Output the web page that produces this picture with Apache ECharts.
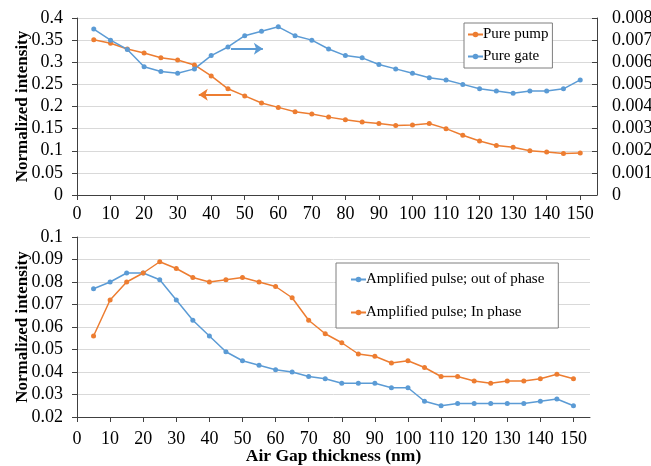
<!DOCTYPE html>
<html>
<head>
<meta charset="utf-8">
<script src="https://cdn.jsdelivr.net/npm/echarts@6/dist/echarts.min.js"></script>
<style>
  html, body { margin: 0; background: #fff; }
  #chart { width: 651px; height: 466px; }
</style>
</head>
<body>
<div id="chart"></div>
<script>
// air gap thickness (nm)
const gapNm = [5, 10, 15, 20, 25, 30, 35, 40, 45, 50, 55, 60, 65, 70, 75,
  80, 85, 90, 95, 100, 105, 110, 115, 120, 125, 130, 135, 140, 145, 150];
const xTicks = [0, 10, 20, 30, 40, 50, 60, 70, 80, 90, 100, 110, 120, 130, 140, 150];

// top chart
const purePump = [0.351, 0.343, 0.330, 0.321, 0.310, 0.305, 0.294, 0.269, 0.240, 0.224,
  0.208, 0.198, 0.188, 0.183, 0.176, 0.170, 0.165, 0.1615, 0.157, 0.158,
  0.1615, 0.150, 0.135, 0.122, 0.112, 0.108, 0.100, 0.097, 0.094, 0.095];
const pureGate = [0.0075, 0.0070, 0.00658, 0.0058, 0.00558, 0.0055, 0.0057, 0.0063, 0.00669, 0.0072,
  0.0074, 0.0076, 0.0072, 0.0070, 0.0066, 0.0063, 0.0062, 0.0059, 0.0057, 0.0055,
  0.0053, 0.0052, 0.0050, 0.0048, 0.0047, 0.0046, 0.0047, 0.0047, 0.0048, 0.0052];

// bottom chart
const outOfPhase = [0.077, 0.080, 0.084, 0.084, 0.081, 0.072, 0.063, 0.056, 0.049, 0.045,
  0.043, 0.041, 0.040, 0.038, 0.037, 0.035, 0.035, 0.035, 0.033, 0.033,
  0.027, 0.025, 0.026, 0.026, 0.026, 0.026, 0.026, 0.027, 0.028, 0.025];
const inPhase = [0.056, 0.072, 0.080, 0.084, 0.089, 0.086, 0.082, 0.080, 0.081, 0.082,
  0.080, 0.078, 0.073, 0.063, 0.057, 0.053, 0.048, 0.047, 0.044, 0.045,
  0.042, 0.038, 0.038, 0.036, 0.035, 0.036, 0.036, 0.037, 0.039, 0.037];

// direction arrows (from, to)
const gateArrow = [[45.9, 0.00661], [55.4, 0.00661]];
const pumpArrow = [[45.9, 0.2264], [36.3, 0.2264]];

const BLUE = '#5B9BD5';
const ORANGE = '#ED7D31';
const FONT = 'Liberation Serif';

const pairs = (ys) => gapNm.map((x, i) => [x, ys[i]]);

const chart = echarts.init(document.getElementById('chart'));

const xAxisBase = (gridIndex, withName, labelMargin) => ({
  type: 'value',
  gridIndex: gridIndex,
  min: 0,
  max: 155,
  interval: 10,
  name: withName ? 'Air Gap thickness (nm)' : '',
  nameLocation: 'middle',
  nameGap: 30,
  nameMoveOverlap: false,
  nameTextStyle: { fontFamily: FONT, fontSize: 17.5, fontWeight: 'bold', color: '#000' },
  axisLine: { show: true, lineStyle: { color: '#404040', width: 1 } },
  axisTick: { show: true, length: 5, customValues: xTicks, lineStyle: { color: '#404040' } },
  axisLabel: { customValues: xTicks, fontFamily: FONT, fontSize: 18, color: '#000', margin: labelMargin },
  splitLine: { show: false }
});

const yAxisBase = (gridIndex, min, max, interval, pos, withName) => ({
  type: 'value',
  gridIndex: gridIndex,
  position: pos,
  min: min,
  max: max,
  interval: interval,
  name: withName ? 'Normalized intensity' : '',
  nameLocation: 'middle',
  nameRotate: 90,
  nameGap: 46,
  nameMoveOverlap: false,
  nameTextStyle: { fontFamily: FONT, fontSize: 17, fontWeight: 'bold', color: '#000' },
  axisLine: { show: true, lineStyle: { color: '#404040', width: 1 } },
  axisTick: { show: true, length: 5, inside: pos === 'right', lineStyle: { color: '#404040' } },
  axisLabel: { fontFamily: FONT, fontSize: 18, color: '#000', margin: pos === 'right' ? 15 : 14 },
  splitLine: { show: pos === 'left', lineStyle: { color: '#d9d9d9', width: 1 } }
});

const lineSeries = (name, data, color, xIdx, yIdx) => ({
  name: name,
  type: 'line',
  data: data,
  xAxisIndex: xIdx,
  yAxisIndex: yIdx,
  symbol: 'circle',
  symbolSize: 5,
  color: color,
  lineStyle: { color: color, width: 1.5 },
  itemStyle: { color: color },
  animation: false
});

const arrowLine = (pts, color) => ({
  silent: true,
  symbol: ['none', 'arrow'],
  symbolSize: [9, 9],
  label: { show: false },
  lineStyle: { color: color, width: 2, type: 'solid' },
  data: [[{ coord: pts[0] }, { coord: pts[1] }]]
});

const gateSeries = lineSeries('Pure gate', pairs(pureGate), BLUE, 0, 1);
gateSeries.markLine = arrowLine(gateArrow, BLUE);
const pumpSeries = lineSeries('Pure pump', pairs(purePump), ORANGE, 0, 0);
pumpSeries.markLine = arrowLine(pumpArrow, ORANGE);

chart.setOption({
  backgroundColor: '#fff',
  animation: false,
  textStyle: { fontFamily: FONT },
  grid: [
    { left: 77, top: 18, width: 520, height: 177, outerBoundsMode: 'none', containLabel: false },
    { left: 77, top: 237, width: 513, height: 180, outerBoundsMode: 'none', containLabel: false }
  ],
  legend: [
    {
      data: ['Pure pump', 'Pure gate'],
      orient: 'vertical',
      left: 464,
      top: 23,
      padding: [4, 4, 4, 3],
      itemGap: 7,
      itemWidth: 15,
      itemHeight: 7,
      backgroundColor: '#fff',
      borderColor: '#7f7f7f',
      borderWidth: 1,
      textStyle: { fontFamily: FONT, fontSize: 15, color: '#000', padding: [0, 0, 0, -5] }
    },
    {
      data: ['Amplified pulse; out of phase', 'Amplified pulse; In phase'],
      orient: 'vertical',
      left: 336,
      top: 263,
      padding: [9, 14, 8, 14],
      itemGap: 18,
      itemWidth: 15,
      itemHeight: 7,
      backgroundColor: '#fff',
      borderColor: '#7f7f7f',
      borderWidth: 1,
      textStyle: { fontFamily: FONT, fontSize: 15, color: '#000', padding: [0, 0, 0, -5] }
    }
  ],
  xAxis: [xAxisBase(0, false, 10), xAxisBase(1, true, 13)],
  yAxis: [
    yAxisBase(0, 0, 0.4, 0.05, 'left', true),
    yAxisBase(0, 0, 0.008, 0.001, 'right', false),
    yAxisBase(1, 0.02, 0.1, 0.01, 'left', true)
  ],
  series: [
    pumpSeries,
    gateSeries,
    lineSeries('Amplified pulse; out of phase', pairs(outOfPhase), BLUE, 1, 2),
    lineSeries('Amplified pulse; In phase', pairs(inPhase), ORANGE, 1, 2)
  ]
});
</script>
</body>
</html>
